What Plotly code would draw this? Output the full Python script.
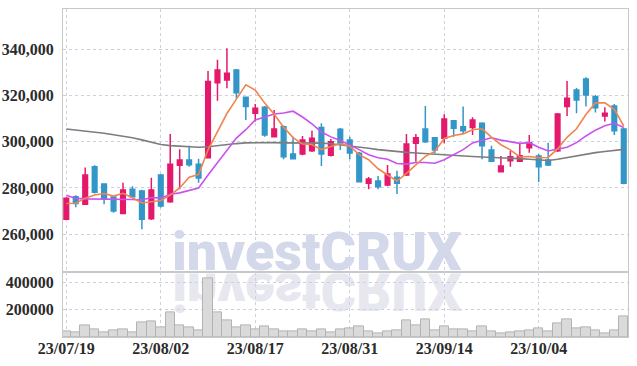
import base64
import plotly.graph_objects as go

# ---------------- data ----------------
dates = [
    "23/07/19", "23/07/20", "23/07/21", "23/07/24", "23/07/25", "23/07/26", "23/07/27", "23/07/28", "23/07/31", "23/08/01",
    "23/08/02", "23/08/03", "23/08/04", "23/08/07", "23/08/08", "23/08/09", "23/08/10", "23/08/11", "23/08/14", "23/08/16",
    "23/08/17", "23/08/18", "23/08/21", "23/08/22", "23/08/23", "23/08/24", "23/08/25", "23/08/28", "23/08/29", "23/08/30",
    "23/08/31", "23/09/01", "23/09/04", "23/09/05", "23/09/06", "23/09/07", "23/09/08", "23/09/11", "23/09/12", "23/09/13",
    "23/09/14", "23/09/15", "23/09/18", "23/09/19", "23/09/20", "23/09/21", "23/09/22", "23/09/25", "23/09/26", "23/09/27",
    "23/10/04", "23/10/05", "23/10/06", "23/10/10", "23/10/11", "23/10/12", "23/10/13", "23/10/16", "23/10/17", "23/10/18",
]

open_ = [
    266500, 276200, 273000, 289200, 281700, 276100, 269000, 279500, 278700, 266700,
    285600, 274000, 289800, 292100, 290300, 293100, 325500, 326700, 331000, 319200,
    312300, 314900, 302200, 306500, 294700, 294700, 296100, 306200, 294200, 305400,
    300700, 295000, 282000, 283000, 281300, 284600, 285600, 299300, 305500, 301700,
    301500, 309100, 306500, 306200, 308000, 296400, 287000, 291800, 291600, 297400,
    293800, 292100, 296100, 315200, 322400, 327100, 319500, 311100, 315500, 305500,
]
high = [
    276000, 276900, 288900, 289800, 282000, 276400, 282300, 280800, 279200, 284400,
    286000, 303300, 296700, 298300, 292600, 330600, 335400, 340400, 331400, 319500,
    316300, 315500, 313700, 307000, 302200, 302500, 304800, 308000, 301200, 305900,
    302200, 295600, 284800, 285200, 289900, 287400, 303300, 303300, 315500, 302000,
    311900, 309400, 315200, 310600, 308400, 298300, 293800, 296100, 299600, 302900,
    294700, 299600, 312400, 326300, 323200, 327900, 320200, 314900, 316300, 306000,
]
low = [
    266300, 271700, 272800, 277600, 273000, 269300, 268700, 275800, 262100, 266100,
    271600, 273600, 279400, 289200, 282300, 292700, 317700, 323100, 318800, 309400,
    308700, 302200, 301900, 292400, 292300, 294200, 295600, 289500, 293600, 296400,
    292400, 282400, 279400, 279400, 280800, 277400, 285200, 291300, 299400, 295000,
    299300, 302200, 303300, 302900, 292400, 291200, 286700, 289200, 291200, 295200,
    282600, 289500, 295600, 311100, 312300, 315200, 312600, 308700, 302900, 281600,
]
close = [
    275600, 273300, 285600, 278200, 275500, 270000, 279100, 276200, 266500, 279100,
    272200, 290300, 292100, 290000, 284300, 326000, 331000, 329600, 321200, 315200,
    314500, 302900, 305500, 293500, 292600, 300700, 301500, 294700, 300000, 299300,
    295100, 282700, 283900, 280500, 286000, 282000, 299000, 301700, 300000, 296400,
    309800, 305800, 304800, 309400, 298300, 291600, 289500, 293500, 293900, 299600,
    289200, 289900, 312000, 318800, 318100, 320200, 314700, 312300, 304800, 282000,
]
ma5 = [
    273300, 273400, 275600, 277000, 277600, 276500, 277700, 275800, 273500, 274200,
    274600, 276900, 280000, 284700, 285800, 296500, 304700, 312200, 318400, 324600,
    322300, 316700, 311900, 306300, 301800, 299000, 298800, 296600, 297900, 299200,
    298100, 294400, 292200, 288300, 285600, 283000, 286300, 289800, 293700, 295800,
    301400, 302700, 303400, 305200, 305600, 302000, 298700, 296500, 293400, 293600,
    293100, 293200, 296900, 301900, 305600, 311800, 316800, 316800, 314000, 306800,
]
ma10 = [
    276900, 275500, 275300, 275300, 275300, 275300, 275200, 275000, 274800, 275900,
    275600, 277300, 277900, 279100, 280000, 285600, 290800, 296100, 301600, 305200,
    309400, 310700, 312000, 312400, 313200, 310700, 307700, 304200, 302100, 300500,
    298600, 296600, 294400, 293100, 292400, 290600, 290300, 291000, 291000, 290700,
    292200, 294500, 296600, 299500, 300700, 301700, 300700, 299900, 299300, 299600,
    297600, 296000, 296700, 297600, 299600, 302500, 305000, 306900, 308000, 306200,
]
ma60 = [
    305500, 305100, 304700, 304300, 303700, 303000, 302400, 301700, 300800, 299800,
    298800, 298300, 298000, 297700, 297600, 297800, 298300, 298900, 299200, 299500,
    299600, 299600, 299600, 299500, 299500, 299500, 299500, 299400, 299100, 298700,
    298300, 297800, 297200, 296600, 296100, 295700, 295400, 295100, 294800, 294500,
    294200, 294000, 293800, 293600, 293400, 293300, 293200, 293000, 292700, 292400,
    292100, 291900, 292400, 293200, 294000, 294700, 295300, 295800, 296300, 296700,
]
volume = [
    40000, 33000, 87000, 54000, 33000, 47000, 54000, 33000, 106000, 111000,
    68000, 176000, 87000, 68000, 49000, 427000, 176000, 118000, 68000, 82000,
    58000, 75000, 57000, 40000, 40000, 54000, 44000, 55000, 35000, 56000,
    63000, 75000, 40000, 23000, 40000, 49000, 118000, 82000, 127000, 49000,
    75000, 56000, 54000, 40000, 75000, 40000, 23000, 35000, 44000, 49000,
    63000, 44000, 99000, 127000, 63000, 68000, 49000, 28000, 49000, 153000,
]
price_ticks = [260000, 280000, 300000, 320000, 340000]
volume_ticks = [200000, 400000]
tick_step = 10

# ---------------- figure ----------------
idx = list(range(len(dates)))
tickvals = idx[::tick_step]
ticktext = dates[::tick_step]

UP = "#e4196b"
DOWN = "#3396c8"
GRID = "#cdd0e0"
LINE = "#c8c8c8"
TICKFONT = dict(family="Liberation Sans Narrow", size=16, color="#2b2b2b", weight=700)

fig = go.Figure()
fig.add_trace(go.Candlestick(
    x=idx, open=open_, high=high, low=low, close=close,
    increasing=dict(line=dict(color=UP, width=1.5), fillcolor=UP),
    decreasing=dict(line=dict(color=DOWN, width=1.5), fillcolor=DOWN),
    whiskerwidth=0, showlegend=False, xaxis="x", yaxis="y",
))
for vals, col in [(ma60, "#7d7d7d"), (ma10, "#c952ee"), (ma5, "#ef8550")]:
    fig.add_trace(go.Scatter(x=idx, y=vals, mode="lines",
                             line=dict(color=col, width=1.6),
                             showlegend=False, xaxis="x", yaxis="y"))
fig.add_trace(go.Bar(x=idx, y=volume, marker=dict(color="#dadada", line=dict(color="#b3b3b3", width=1)),
                     showlegend=False, xaxis="x2", yaxis="y2"))

split = 0.197
xr = [-0.35, 59.45]
fig.update_layout(
    width=637, height=366,
    margin=dict(l=63, r=9, t=9, b=29, autoexpand=False),
    paper_bgcolor="white", plot_bgcolor="rgba(0,0,0,0)",
    bargap=0,
    xaxis=dict(domain=[0, 1], anchor="y", range=xr, tickvals=tickvals, showticklabels=False,
               showgrid=True, gridcolor=GRID, griddash="dot", gridwidth=1, automargin=False,
               showline=True, linecolor=LINE, mirror=True, zeroline=False,
               rangeslider=dict(visible=False)),
    yaxis=dict(domain=[split, 1], anchor="x", range=[243500, 357400], tickvals=price_ticks,
               tickformat=",d", tickfont=TICKFONT, ticklabelstandoff=5, automargin=False,
               showgrid=True, gridcolor=GRID, griddash="dot", gridwidth=1,
               showline=True, linecolor=LINE, mirror=True, zeroline=False),
    xaxis2=dict(domain=[0, 1], anchor="y2", range=xr, matches="x", tickvals=tickvals, ticktext=ticktext,
                tickfont=TICKFONT, ticklabelstandoff=-3, automargin=False,
                showgrid=True, gridcolor=GRID, griddash="dot", gridwidth=1,
                showline=True, linecolor=LINE, mirror=True, zeroline=False),
    yaxis2=dict(domain=[0, split], anchor="x2", range=[0, 470000], tickvals=volume_ticks,
                tickformat="d", tickfont=TICKFONT, ticklabelstandoff=5, automargin=False,
                showgrid=True, gridcolor=GRID, griddash="dot", gridwidth=1,
                showline=True, linecolor=LINE, mirror=True, zeroline=False),
)

# watermark
wm_center = (317 - 63) / 565
fig.add_annotation(text="investCRUX", xref="paper", yref="paper", x=wm_center, y=split,
                   xanchor="center", yanchor="bottom", yshift=-13, showarrow=False,
                   font=dict(family="Roboto", size=54, color="#d3d8ea", weight=900))
svg = ("<svg xmlns='http://www.w3.org/2000/svg' width='320' height='60'>"
       "<text x='160' y='0' transform='scale(1,-1)' text-anchor='middle' font-family='Roboto' "
       "font-weight='900' font-size='54' fill='#e7e7ef'>investCRUX</text></svg>")
src = "data:image/svg+xml;base64," + base64.b64encode(svg.encode()).decode()
fig.add_layout_image(dict(source=src, xref="paper", yref="paper",
                          x=(317 - 160 - 63) / 565, y=split - 1 / 328,
                          sizex=320 / 565, sizey=60 / 328, xanchor="left", yanchor="top",
                          sizing="stretch", layer="below"))

fig.write_html("out.html", config={"displayModeBar": False},
               post_script="document.body.style.margin='0';document.body.style.overflow='hidden';")
